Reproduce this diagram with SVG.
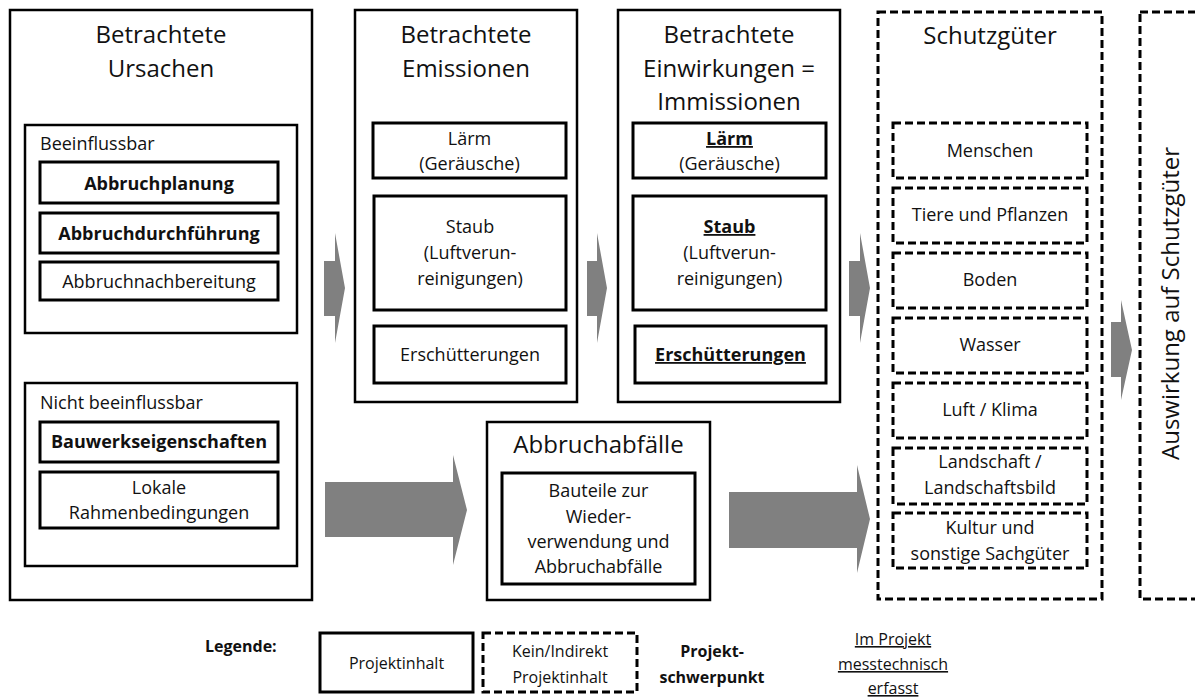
<svg xmlns="http://www.w3.org/2000/svg" width="1195" height="700" viewBox="0 0 1195 700">
<style>
text{font-family:"Open Sans","Noto Sans","DejaVu Sans",sans-serif;fill:#111;text-anchor:middle}
.t{font-size:24px}
.s{font-size:18px}
.l{font-size:16px}
.b{font-weight:bold}
.u{text-decoration:underline}
.st{text-anchor:start}
.box{fill:#fff;stroke:#000;stroke-width:2.5}
.ibox{fill:#fff;stroke:#000;stroke-width:3}
.dbox{fill:#fff;stroke:#000;stroke-width:3;stroke-dasharray:8 4}
.arr{fill:#808080;stroke:none}
</style>
<rect width="1195" height="700" fill="#fff"/>

<g id="connectors">
<polygon class="arr" points="324,261 335,261 335,233 345,288 335,343 335,316 324,316"/>
<polygon class="arr" points="587,261 597,261 597,233 607,288 597,343 597,316 587,316"/>
<polygon class="arr" points="849,261 860,261 860,233 870,288 860,343 860,316 849,316"/>
<polygon class="arr" points="1111,322 1121,322 1121,300 1132,350 1121,400 1121,377 1111,377"/>
<polygon class="arr" points="325,482 453,482 453,455 467,510 453,565 453,537 325,537"/>
<polygon class="arr" points="729,492 857,492 857,465 870,519 857,573 857,548 729,548"/>
</g>

<g id="ursachen">
<rect class="box" x="10" y="10" width="302" height="590"/>
<text class="t" x="161" y="43">Betrachtete</text>
<text class="t" x="161" y="77">Ursachen</text>
</g>
<g id="beeinflussbar">
<rect class="box" x="25" y="125" width="272" height="208"/>
<text class="s st" x="40" y="150">Beeinflussbar</text>
</g>
<g id="abbruchplanung">
<rect class="ibox" x="40" y="162" width="238" height="41"/>
<text class="s b" x="159" y="190">Abbruchplanung</text>
</g>
<g id="abbruchdurchfuehrung">
<rect class="ibox" x="40" y="213" width="238" height="40"/>
<text class="s b" x="159" y="240">Abbruchdurchführung</text>
</g>
<g id="abbruchnachbereitung">
<rect class="ibox" x="40" y="262" width="238" height="38"/>
<text class="s" x="159" y="288">Abbruchnachbereitung</text>
</g>
<g id="nicht-beeinflussbar">
<rect class="box" x="25" y="383" width="272" height="183"/>
<text class="s st" x="40" y="409">Nicht beeinflussbar</text>
</g>
<g id="bauwerkseigenschaften">
<rect class="ibox" x="40" y="422" width="238" height="40"/>
<text class="s b" x="159" y="448">Bauwerkseigenschaften</text>
</g>
<g id="rahmenbedingungen">
<rect class="ibox" x="40" y="472" width="238" height="56"/>
<text class="s" x="159" y="494">Lokale</text>
<text class="s" x="159" y="519">Rahmenbedingungen</text>
</g>

<g id="emissionen">
<rect class="box" x="355" y="10" width="222" height="392"/>
<text class="t" x="466" y="43">Betrachtete</text>
<text class="t" x="466" y="77">Emissionen</text>
</g>
<g id="em-laerm">
<rect class="ibox" x="373" y="123" width="193" height="55"/>
<text class="s" x="469.5" y="145">Lärm</text>
<text class="s" x="469.5" y="170">(Geräusche)</text>
</g>
<g id="em-staub">
<rect class="ibox" x="374" y="196" width="192" height="114"/>
<text class="s" x="470" y="233">Staub</text>
<text class="s" x="470" y="259">(Luftverun-</text>
<text class="s" x="470" y="285">reinigungen)</text>
</g>
<g id="em-erschuetterungen">
<rect class="ibox" x="374" y="326" width="192" height="57"/>
<text class="s" x="470" y="361">Erschütterungen</text>
</g>

<g id="immissionen">
<rect class="box" x="618" y="10" width="222" height="392"/>
<text class="t" x="729" y="43">Betrachtete</text>
<text class="t" x="729" y="77">Einwirkungen =</text>
<text class="t" x="729" y="110">Immissionen</text>
</g>
<g id="im-laerm">
<rect class="ibox" x="633" y="123" width="193" height="55"/>
<text class="s b u" x="729.5" y="145">Lärm</text>
<text class="s" x="729.5" y="170">(Geräusche)</text>
</g>
<g id="im-staub">
<rect class="ibox" x="633" y="196" width="193" height="114"/>
<text class="s b u" x="729.5" y="233">Staub</text>
<text class="s" x="729.5" y="259">(Luftverun-</text>
<text class="s" x="729.5" y="285">reinigungen)</text>
</g>
<g id="im-erschuetterungen">
<rect class="ibox" x="635" y="326" width="191" height="57"/>
<text class="s b u" x="730.5" y="361">Erschütterungen</text>
</g>

<g id="abbruchabfaelle">
<rect class="box" x="487" y="422" width="223" height="178"/>
<text class="t" x="598.5" y="453">Abbruchabfälle</text>
</g>
<g id="bauteile">
<rect class="ibox" x="502" y="473" width="193" height="111"/>
<text class="s" x="598.5" y="497">Bauteile zur</text>
<text class="s" x="598.5" y="523">Wieder-</text>
<text class="s" x="598.5" y="548">verwendung und</text>
<text class="s" x="598.5" y="573">Abbruchabfälle</text>
</g>

<g id="schutzgueter">
<rect class="dbox" x="878" y="12" width="224" height="587"/>
<text class="t" x="990" y="44">Schutzgüter</text>
</g>
<g id="menschen">
<rect class="dbox" x="893" y="123" width="194" height="55"/>
<text class="s" x="990" y="157">Menschen</text>
</g>
<g id="tiere">
<rect class="dbox" x="893" y="188" width="194" height="55"/>
<text class="s" x="990" y="221">Tiere und Pflanzen</text>
</g>
<g id="boden">
<rect class="dbox" x="893" y="253" width="194" height="55"/>
<text class="s" x="990" y="286">Boden</text>
</g>
<g id="wasser">
<rect class="dbox" x="893" y="318" width="194" height="55"/>
<text class="s" x="990" y="351">Wasser</text>
</g>
<g id="luft">
<rect class="dbox" x="893" y="383" width="194" height="55"/>
<text class="s" x="990" y="416">Luft / Klima</text>
</g>
<g id="landschaft">
<rect class="dbox" x="893" y="448" width="194" height="56"/>
<text class="s" x="990" y="468">Landschaft /</text>
<text class="s" x="990" y="494">Landschaftsbild</text>
</g>
<g id="kultur">
<rect class="dbox" x="893" y="513" width="194" height="55"/>
<text class="s" x="990" y="534">Kultur und</text>
<text class="s" x="990" y="560">sonstige Sachgüter</text>
</g>

<g id="auswirkung">
<rect class="dbox" x="1140" y="12" width="90" height="587"/>
<text class="t" transform="translate(1179,147) rotate(-90)" style="text-anchor:end">Auswirkung auf Schutzgüter</text>
</g>

<g id="legende">
<text class="l b st" x="205" y="652">Legende:</text>
<rect class="ibox" x="320" y="633" width="153" height="59"/>
<text class="l" x="396.5" y="669">Projektinhalt</text>
<rect class="dbox" x="483" y="633" width="154" height="59"/>
<text class="l" x="560" y="657">Kein/Indirekt</text>
<text class="l" x="560" y="683">Projektinhalt</text>
<text class="l b" x="712" y="657">Projekt-</text>
<text class="l b" x="712" y="683">schwerpunkt</text>
<text class="l u" x="893" y="645">Im Projekt</text>
<text class="l u" x="893" y="670">messtechnisch</text>
<text class="l u" x="893" y="694">erfasst</text>
</g>
</svg>
